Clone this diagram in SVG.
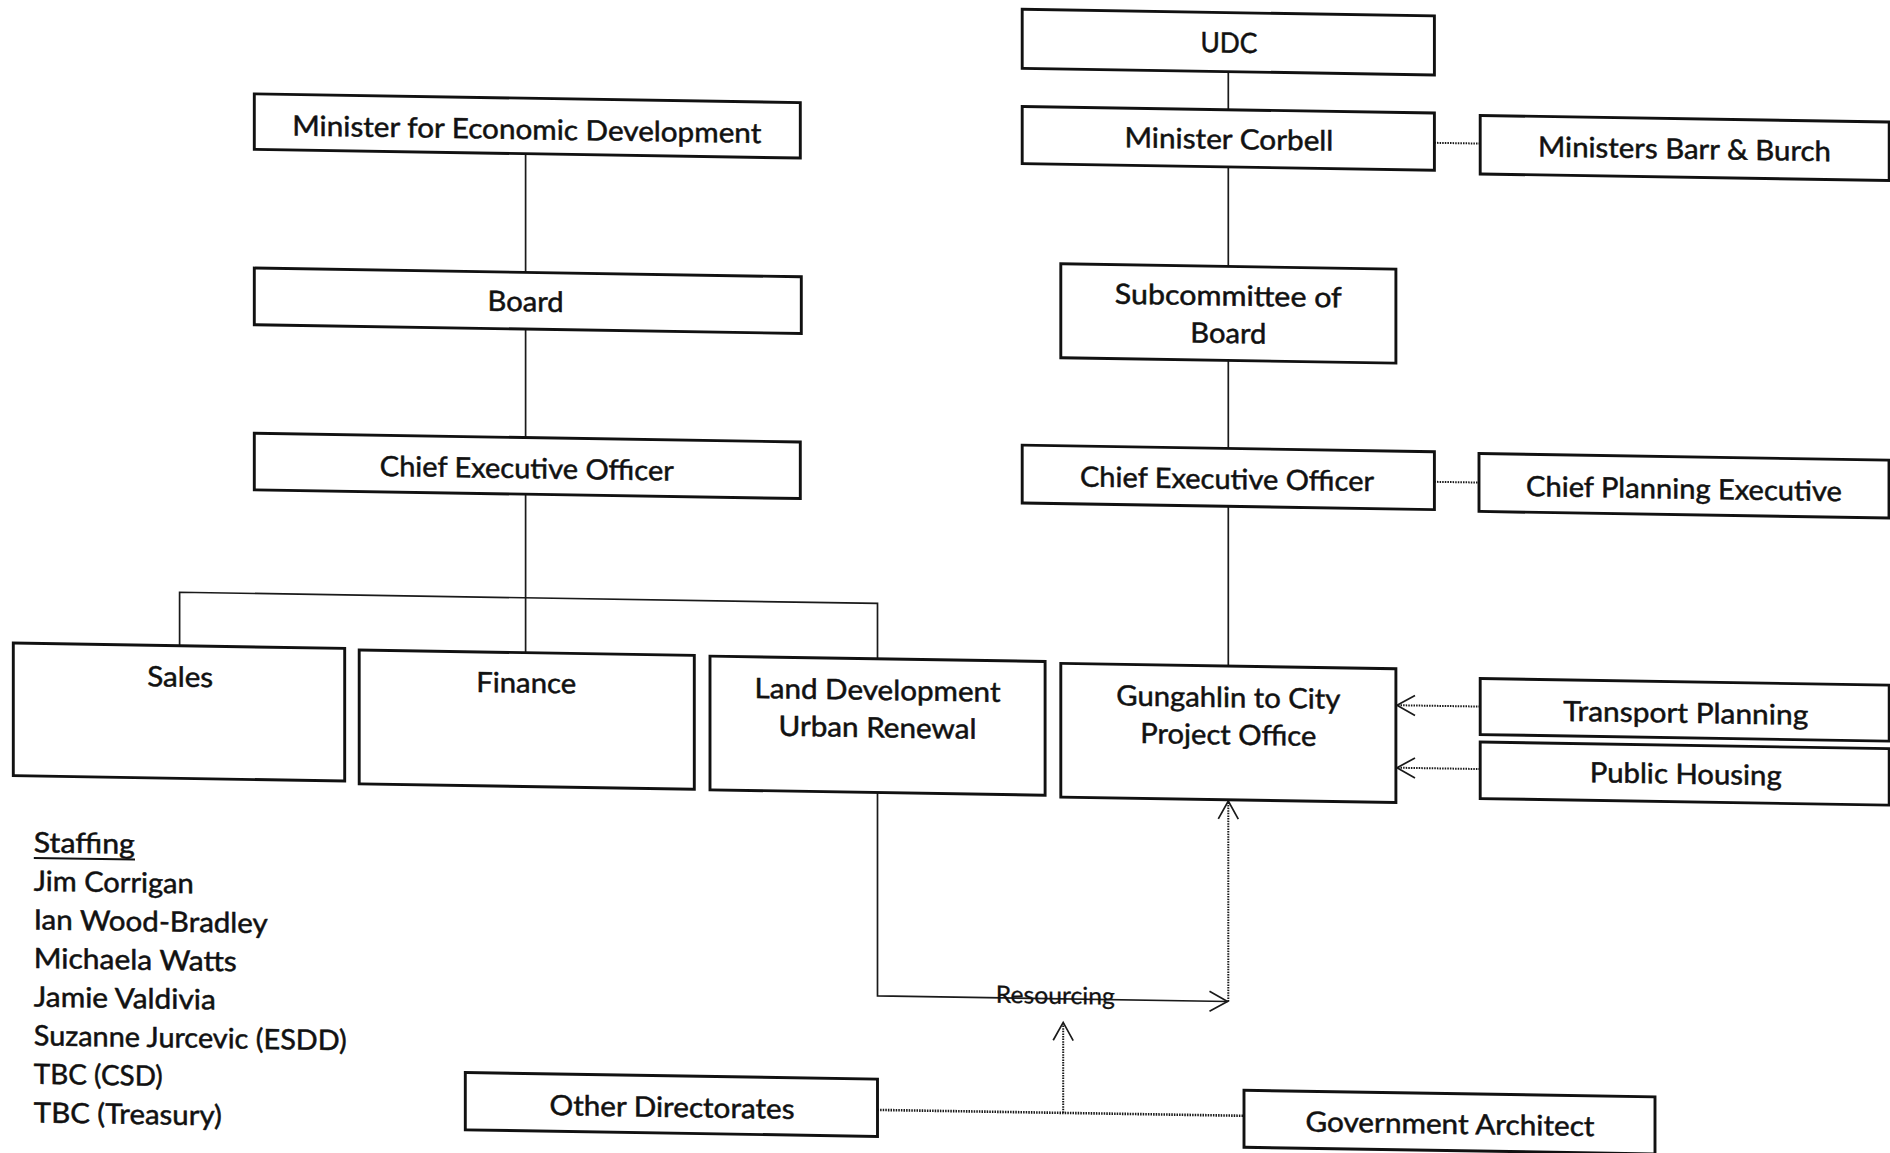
<svg xmlns="http://www.w3.org/2000/svg" width="1890" height="1153" viewBox="0 0 1890 1153">
<style>
.box{fill:#fff;stroke:#111;stroke-width:2.9}
.lbl{font-family:Lato,"Liberation Sans",sans-serif;font-size:28px;fill:#111;stroke:#111;stroke-width:0.5;text-anchor:middle}
.stf{font-family:Lato,"Liberation Sans",sans-serif;font-size:28px;fill:#111;stroke:#111;stroke-width:0.5;text-anchor:start}
.res{font-family:Lato,"Liberation Sans",sans-serif;font-size:24px;fill:#111;stroke:#111;stroke-width:0.3;text-anchor:middle}
.ln{fill:none;stroke:#1a1a1a;stroke-width:1.7}
.dot{fill:none;stroke:#1a1a1a;stroke-width:2;stroke-dasharray:1.5 1.1}
.dotb{fill:none;stroke:#1a1a1a;stroke-width:2.6;stroke-dasharray:1.5 1.1}
</style>
<defs>
<marker id="arr" markerUnits="userSpaceOnUse" markerWidth="24" markerHeight="24" refX="20" refY="12" orient="auto">
<path d="M2,2 L20,12 L2,22" fill="none" stroke="#1a1a1a" stroke-width="1.7"/>
</marker>
</defs>
<rect width="1890" height="1153" fill="#fff"/>
<g transform="matrix(1 0.016 0 1 0 -15.12)">
<g id="connectors">
<path class="ln" d="M525.6,160.4 V279.1"/>
<path class="ln" d="M525.6,335.8 V444.3"/>
<path class="ln" d="M525.6,500.9 V659.4"/>
<path class="ln" d="M179.6,658 V604.5 H877.5 V660"/>
<path class="ln" d="M1228.3,67.1 V105.2"/>
<path class="ln" d="M1228.3,162.4 V261.9"/>
<path class="ln" d="M1228.3,355.9 V443.9"/>
<path class="ln" d="M1228.3,501.8 V661.5"/>
<path class="dot" d="M1434.4,135 H1480.2"/>
<path class="dot" d="M1434.4,474 H1479"/>
<path class="dot" d="M1480,698 H1397" marker-end="url(#arr)"/>
<path class="dot" d="M1480,760.5 H1397" marker-end="url(#arr)"/>
<path class="ln" d="M877.5,793.6 V997 H1227.5" marker-end="url(#arr)"/>
<path class="dot" d="M1228.3,997 V796.5" marker-end="url(#arr)"/>
<path class="dotb" d="M877.5,1111 H1244"/>
<path class="dot" d="M1063.2,1111 V1020.5" marker-end="url(#arr)"/>
<text class="res" x="1055.3" y="1002" textLength="119" lengthAdjust="spacingAndGlyphs">Resourcing</text>
</g>
<g id="n-med"><rect class="box" x="254.3" y="104.9" width="546" height="55.5"/><text class="lbl" x="526.8" y="146" textLength="469" lengthAdjust="spacingAndGlyphs">Minister for Economic Development</text></g>
<g id="n-board"><rect class="box" x="254.3" y="279.1" width="547" height="56.7"/><text class="lbl" x="525.6" y="318" textLength="76" lengthAdjust="spacingAndGlyphs">Board</text></g>
<g id="n-ceo-left"><rect class="box" x="254.3" y="444.3" width="546" height="56.6"/><text class="lbl" x="526.8" y="485" textLength="294" lengthAdjust="spacingAndGlyphs">Chief Executive Officer</text></g>
<g id="n-udc"><rect class="box" x="1022.2" y="8.1" width="412.2" height="59"/><text class="lbl" x="1228.9" y="48" textLength="57" lengthAdjust="spacingAndGlyphs">UDC</text></g>
<g id="n-corbell"><rect class="box" x="1022.2" y="105.2" width="412.2" height="57.2"/><text class="lbl" x="1228.9" y="144.5" textLength="209" lengthAdjust="spacingAndGlyphs">Minister Corbell</text></g>
<g id="n-barr"><rect class="box" x="1480.2" y="106.9" width="409" height="58.5"/><text class="lbl" x="1684.5" y="147" textLength="293" lengthAdjust="spacingAndGlyphs">Ministers Barr &amp; Burch</text></g>
<g id="n-sub"><rect class="box" x="1060.8" y="261.9" width="335.1" height="94"/><text class="lbl" x="1228.3" y="301" textLength="227" lengthAdjust="spacingAndGlyphs">Subcommittee of</text><text class="lbl" x="1228.3" y="338.6" textLength="76" lengthAdjust="spacingAndGlyphs">Board</text></g>
<g id="n-ceo-right"><rect class="box" x="1022.2" y="443.9" width="412.2" height="57.9"/><text class="lbl" x="1227" y="484.4" textLength="294" lengthAdjust="spacingAndGlyphs">Chief Executive Officer</text></g>
<g id="n-cpe"><rect class="box" x="1479" y="445" width="410" height="57.9"/><text class="lbl" x="1684" y="486.8" textLength="316" lengthAdjust="spacingAndGlyphs">Chief Planning Executive</text></g>
<g id="n-sales"><rect class="box" x="13.3" y="658" width="331.4" height="132.6"/><text class="lbl" x="180.2" y="699" textLength="66" lengthAdjust="spacingAndGlyphs">Sales</text></g>
<g id="n-finance"><rect class="box" x="359.2" y="659.4" width="335.1" height="133.8"/><text class="lbl" x="526.2" y="699.4" textLength="100" lengthAdjust="spacingAndGlyphs">Finance</text></g>
<g id="n-landdev"><rect class="box" x="710" y="659.9" width="335.1" height="133.7"/><text class="lbl" x="877.5" y="701" textLength="246" lengthAdjust="spacingAndGlyphs">Land Development</text><text class="lbl" x="877.5" y="738.4" textLength="198" lengthAdjust="spacingAndGlyphs">Urban Renewal</text></g>
<g id="n-gungahlin"><rect class="box" x="1060.8" y="661.5" width="335.1" height="133.8"/><text class="lbl" x="1228.3" y="702.6" textLength="224" lengthAdjust="spacingAndGlyphs">Gungahlin to City</text><text class="lbl" x="1228.3" y="740" textLength="176" lengthAdjust="spacingAndGlyphs">Project Office</text></g>
<g id="n-transport"><rect class="box" x="1480.2" y="670" width="409" height="56"/><text class="lbl" x="1685.7" y="711" textLength="245" lengthAdjust="spacingAndGlyphs">Transport Planning</text></g>
<g id="n-housing"><rect class="box" x="1480.2" y="733.5" width="409" height="56.5"/><text class="lbl" x="1685.7" y="772" textLength="192" lengthAdjust="spacingAndGlyphs">Public Housing</text></g>
<g id="n-otherdir"><rect class="box" x="465.3" y="1080.2" width="412.2" height="57.3"/><text class="lbl" x="672" y="1121.4" textLength="245" lengthAdjust="spacingAndGlyphs">Other Directorates</text></g>
<g id="n-govarch"><rect class="box" x="1244" y="1085.5" width="411" height="57"/><text class="lbl" x="1450" y="1125.7" textLength="289" lengthAdjust="spacingAndGlyphs">Government Architect</text></g>
<g id="staffing">
<text class="stf" x="33.8" y="866.8" textLength="101" lengthAdjust="spacingAndGlyphs">Staffing</text>
<path d="M33.8,872.5 H135" fill="none" stroke="#111" stroke-width="2"/>
<text class="stf" x="33.8" y="905.4" textLength="160" lengthAdjust="spacingAndGlyphs">Jim Corrigan</text>
<text class="stf" x="33.8" y="944" textLength="234" lengthAdjust="spacingAndGlyphs">Ian Wood-Bradley</text>
<text class="stf" x="33.8" y="982.6" textLength="203" lengthAdjust="spacingAndGlyphs">Michaela Watts</text>
<text class="stf" x="33.8" y="1021.2" textLength="182" lengthAdjust="spacingAndGlyphs">Jamie Valdivia</text>
<text class="stf" x="33.8" y="1059.8" textLength="313" lengthAdjust="spacingAndGlyphs">Suzanne Jurcevic (ESDD)</text>
<text class="stf" x="33.8" y="1098.4" textLength="129" lengthAdjust="spacingAndGlyphs">TBC (CSD)</text>
<text class="stf" x="33.8" y="1137" textLength="188" lengthAdjust="spacingAndGlyphs">TBC (Treasury)</text>
</g>
</g>
</svg>
